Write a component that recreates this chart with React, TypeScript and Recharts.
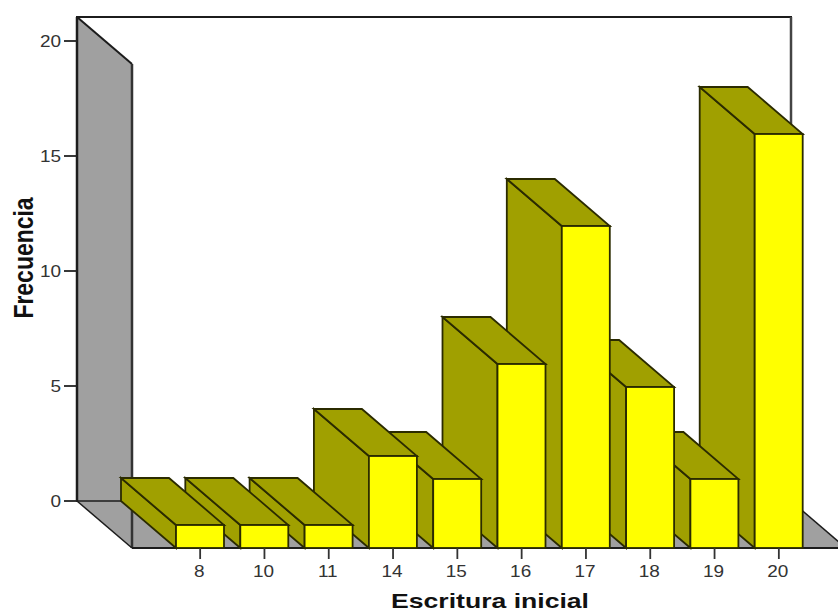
import React from "react";
import { BarChart, Bar, XAxis, YAxis } from "recharts";

const categories = ["8", "10", "11", "14", "15", "16", "17", "18", "19", "20"];
const frequencies = [1, 1, 1, 4, 3, 8, 14, 7, 3, 18];
const yTicks = [0, 5, 10, 15, 20];
const xLabel = "Escritura inicial";
const yLabel = "Frecuencia";

// Drawn right to left (reversed axis) so nearer-left bars cover the ones to their right.
const table = categories.map((c, i) => ({ category: c, value: frequencies[i] })).reverse();

const W = 838;
const H = 613;
const LEFT = 77;
const TOP = 17;
const RIGHT = 791;
const BASE = 501;
const DX = 55;
const DY = 47;
const INK = "#1c1c1c";
const WALL = "#a0a0a0";
const FONT = "'Liberation Sans', Arial, sans-serif";

function Frame() {
  return (
    <g>
      <path d={`M${LEFT},${BASE} H${RIGHT} V${TOP} H${LEFT} Z`} fill="#fff" stroke={INK} strokeWidth={2} />
      <path d={`M${RIGHT},${TOP} V${BASE}`} stroke="#444" strokeWidth={2.5} fill="none" />
      <polygon
        points={`${LEFT},${BASE} ${RIGHT},${BASE} ${RIGHT + DX},${BASE + DY} ${LEFT + DX},${BASE + DY}`}
        fill={WALL}
      />
      <polygon
        points={`${LEFT},${TOP} ${LEFT + DX},${TOP + DY} ${LEFT + DX},${BASE + DY} ${LEFT},${BASE}`}
        fill={WALL}
      />
      <path d={`M${LEFT},${TOP} V${BASE}`} stroke={INK} strokeWidth={2.5} fill="none" />
      <path d={`M${LEFT},${BASE} H${RIGHT}`} stroke={INK} strokeWidth={1.6} fill="none" />
      <path d={`M${LEFT},${TOP} L${LEFT + DX},${TOP + DY}`} stroke={INK} strokeWidth={2} fill="none" />
      <path d={`M${LEFT + DX},${TOP + DY} V${BASE + DY}`} stroke="#333" strokeWidth={2.5} fill="none" />
      <path d={`M${LEFT},${BASE} L${LEFT + DX},${BASE + DY}`} stroke={INK} strokeWidth={1.5} fill="none" />
      <path d={`M${RIGHT},${BASE} L${RIGHT + DX},${BASE + DY}`} stroke={INK} strokeWidth={1.5} fill="none" />
      <path d={`M${LEFT + DX},${BASE + DY} H${W}`} stroke={INK} strokeWidth={2} fill="none" />
    </g>
  );
}

function Bar3D(props: any) {
  const { x, y, width, height } = props;
  const b = y + height;
  const r = x + width;
  const stroke = "#2b2b00";
  return (
    <g stroke={stroke} strokeWidth={1.8} strokeLinejoin="miter">
      <polygon
        points={`${x},${y} ${x + DX},${y + DY} ${x + DX},${b + DY} ${x},${b}`}
        fill="#a0a000"
      />
      <polygon
        points={`${x},${y} ${r},${y} ${r + DX},${y + DY} ${x + DX},${y + DY}`}
        fill="#a0a000"
      />
      <rect x={x + DX} y={y + DY} width={width} height={height} fill="#ffff00" />
    </g>
  );
}

function XTick(props: any) {
  const { x, payload } = props;
  const cx = x + DX;
  const y0 = BASE + DY;
  return (
    <g>
      <line x1={cx} x2={cx} y1={y0} y2={y0 + 11} stroke="#333" strokeWidth={1.8} />
      <text
        transform={`translate(${cx - 1},${y0 + 29}) scale(1.15,1)`}
        textAnchor="middle"
        fontFamily={FONT}
        fontSize={16.5}
        fill="#333"
      >
        {payload.value}
      </text>
    </g>
  );
}

function YTick(props: any) {
  const { y, payload } = props;
  return (
    <g>
      <line x1={LEFT - 13} x2={LEFT} y1={y} y2={y} stroke="#222" strokeWidth={1.8} />
      <text
        transform={`translate(${LEFT - 16},${y + 6}) scale(1.15,1)`}
        textAnchor="end"
        fontFamily={FONT}
        fontSize={16.5}
        fill="#333"
      >
        {payload.value}
      </text>
    </g>
  );
}

function XTitle() {
  return (
    <text
      transform={`translate(490,608) scale(1.33,1)`}
      textAnchor="middle"
      fontFamily={FONT}
      fontSize={20}
      fontWeight={700}
      fill="#111"
    >
      {xLabel}
    </text>
  );
}

function YTitle() {
  return (
    <text
      transform={`translate(33,258) rotate(-90) scale(0.82,1)`}
      textAnchor="middle"
      fontFamily={FONT}
      fontSize={28}
      fontWeight={700}
      fill="#111"
    >
      {yLabel}
    </text>
  );
}

export default function App() {
  return (
    <div style={{ position: "absolute", left: 0, top: 0, width: W, height: H, overflow: "hidden", background: "#fff" }}>
      <BarChart
        width={W}
        height={H}
        data={table}
        margin={{ top: TOP, right: W - RIGHT, bottom: 0, left: 0 }}
        barSize={48}
      >
        <Frame />
        <XAxis
          dataKey="category"
          reversed
          padding={{ left: 36, right: 35 }}
          height={H - BASE}
          axisLine={false}
          tickLine={false}
          interval={0}
          tick={<XTick />}
          label={<XTitle />}
        />
        <YAxis
          width={LEFT}
          domain={[0, (BASE - TOP) / 23]}
          ticks={yTicks}
          axisLine={false}
          tickLine={false}
          tick={<YTick />}
          label={<YTitle />}
        />
        <Bar dataKey="value" shape={<Bar3D />} isAnimationActive={false} />
      </BarChart>
    </div>
  );
}
